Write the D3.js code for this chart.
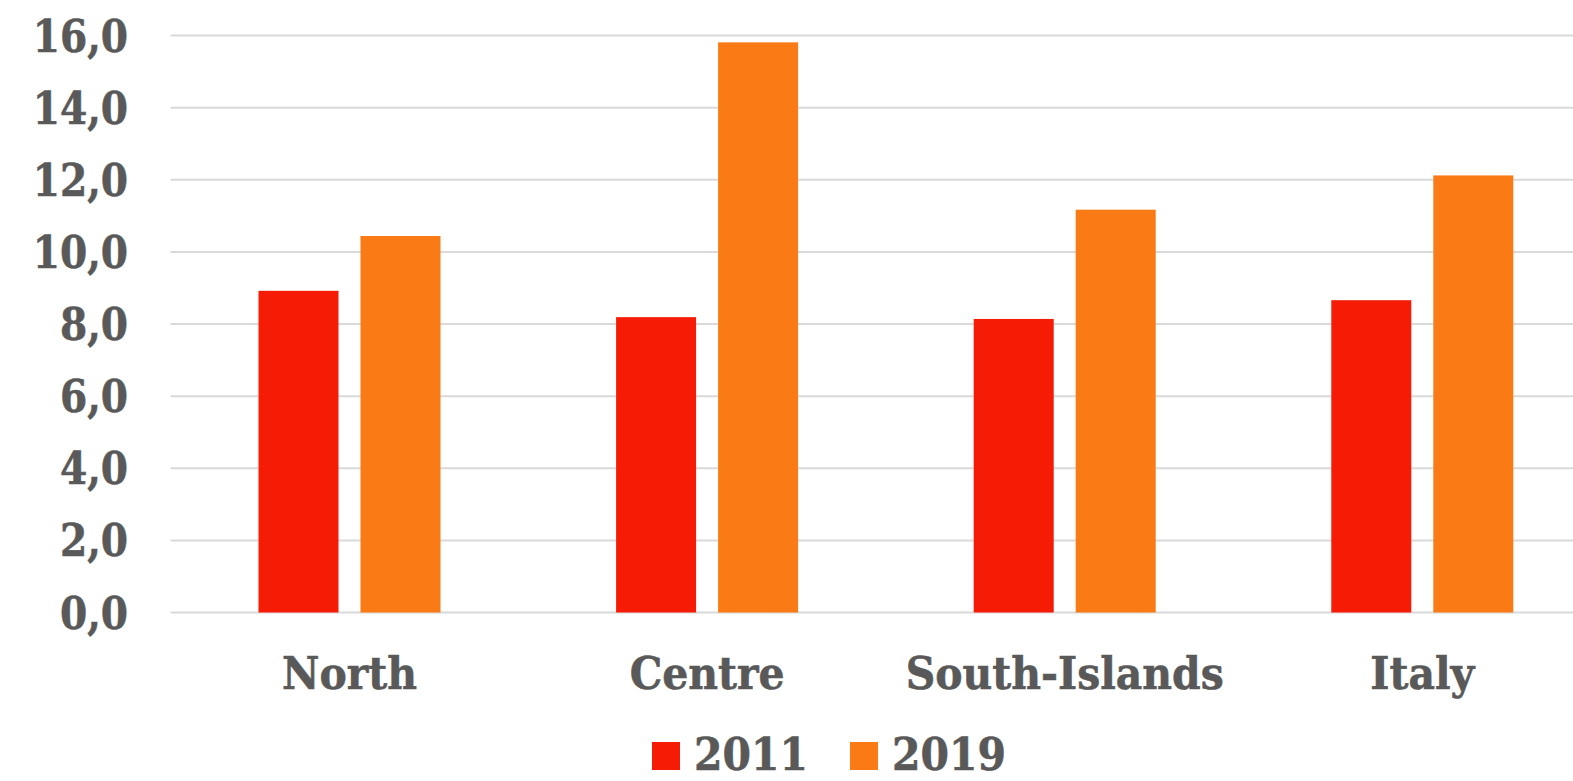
<!DOCTYPE html>
<html>
<head>
<meta charset="utf-8">
<script src="https://cdn.jsdelivr.net/npm/d3@7"></script>
<style>
  html, body { margin: 0; padding: 0; background: #fff; }
  svg { display: block; }
  text { font-family: "DejaVu Serif", serif; font-weight: bold; fill: #595959; stroke: #595959; stroke-width: 0.6; }
</style>
</head>
<body>
<svg id="chart" width="1573" height="781"></svg>
<script>
// Regional values, 2011 vs 2019
const categories = ["North", "Centre", "South-Islands", "Italy"];
const seriesNames = ["2011", "2019"];
const values2011 = [8.92, 8.19, 8.14, 8.66];
const values2019 = [10.44, 15.81, 11.17, 12.12];
const yTicks = [0, 2, 4, 6, 8, 10, 12, 14, 16];
const colors = ["#F61B05", "#FA7A16"];

const svg = d3.select("#chart");
const W = 1573, H = 781;
const plotLeft = 170.7, band = 357.6;
const yBottom = 612.5, yTop = 35.5;
const xScaleX = 0.91; // horizontal squeeze for the wide slab face

const x0 = d3.scaleBand().domain(categories).range([plotLeft, plotLeft + band * categories.length]);
const x1 = d3.scaleBand().domain(seriesNames).range([0, 182]).paddingInner(22 / 102);
const y = d3.scaleLinear().domain([0, 16]).range([yBottom, yTop]);
const color = d3.scaleOrdinal().domain(seriesNames).range(colors);

// gridlines
svg.append("g").selectAll("line").data(yTicks).join("line")
  .attr("x1", plotLeft).attr("x2", W)
  .attr("y1", d => y(d)).attr("y2", d => y(d))
  .attr("stroke", "#D9D9D9").attr("stroke-width", 2);

// y tick labels
const fmt = d => d3.format(".1f")(d).replace(".", ",");
svg.append("g").selectAll("text").data(yTicks).join("text")
  .attr("transform", d => `translate(128,${y(d) + 16}) scale(0.87,1)`)
  .attr("text-anchor", "end")
  .attr("font-size", 45)
  .text(fmt);

// bars
const rows = categories.map((c, i) => ({ cat: c, vals: [values2011[i], values2019[i]] }));
const groups = svg.append("g").selectAll("g").data(rows).join("g")
  .attr("transform", d => `translate(${x0(d.cat) + (band - 182) / 2},0)`);
groups.selectAll("rect").data(d => d.vals.map((v, j) => ({ s: seriesNames[j], v })))
  .join("rect")
  .attr("x", d => x1(d.s))
  .attr("width", x1.bandwidth())
  .attr("y", d => y(d.v))
  .attr("height", d => yBottom - y(d.v))
  .attr("fill", d => color(d.s));

// category labels
svg.append("g").selectAll("text").data(categories).join("text")
  .attr("transform", d => `translate(${x0(d) + band / 2},689) scale(${xScaleX},1)`)
  .attr("text-anchor", "middle")
  .attr("font-size", 45)
  .text(d => d);

// legend
const legendX = [652, 850];
const legend = svg.append("g").selectAll("g").data(seriesNames).join("g")
  .attr("transform", (d, i) => `translate(${legendX[i]},0)`);
legend.append("rect").attr("x", 0).attr("y", 742).attr("width", 28).attr("height", 28)
  .attr("fill", d => color(d));
legend.append("text")
  .attr("transform", `translate(42,770) scale(${xScaleX},1)`)
  .attr("font-size", 45)
  .text(d => d);
</script>
</body>
</html>
